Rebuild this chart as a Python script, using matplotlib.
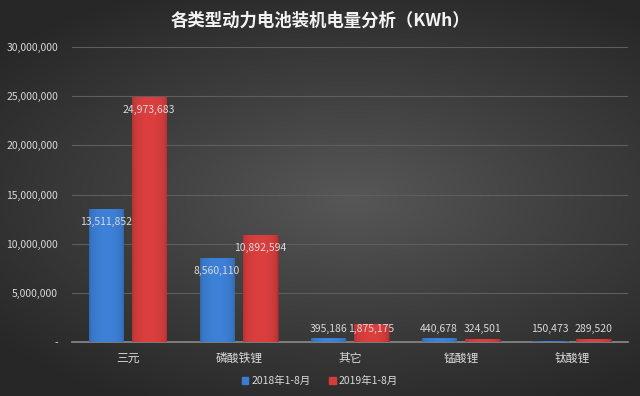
import matplotlib.pyplot as plt
import numpy as np

plt.rcParams['font.family'] = ['Noto Sans CJK SC', 'DejaVu Sans']

# Data
CATEGORIES = ['三元', '磷酸铁锂', '其它', '锰酸锂', '钛酸锂']
SERIES_NAMES = ['2018年1-8月', '2019年1-8月']
VALUES_2018 = [13511852, 8560110, 395186, 440678, 150473]
VALUES_2019 = [24973683, 10892594, 1875175, 324501, 289520]
Y_TICKS = [0, 5000000, 10000000, 15000000, 20000000, 25000000, 30000000]
TITLE = '各类型动力电池装机电量分析（KWh）'

BLUE = '#3b7cd0'
RED = '#d43c3c'
TEXT = '#d9d9d9'

fig = plt.figure(figsize=(6.4, 3.96), dpi=100)

# Background radial gradient
bg = fig.add_axes([0, 0, 1, 1])
yy, xx = np.mgrid[-1:1:200j, -1:1:320j]
r = np.sqrt(((xx - 0.1) * 0.9) ** 2 + (yy * 1.1) ** 2)
bg.imshow(r, cmap=plt.matplotlib.colors.LinearSegmentedColormap.from_list(
    'bg', ['#575757', '#3e3e3e', '#272727']), aspect='auto',
    extent=[0, 1, 0, 1], vmin=0, vmax=1.3)
bg.set_axis_off()

ax = fig.add_axes([0.1125, 0.136, 0.868, 0.745])
ax.set_facecolor('none')

x = np.arange(len(CATEGORIES))
w = 0.31
gap = 0.08


def cylinder_bars(xs, vals, color):
    bars = ax.bar(xs, vals, width=w, color=color, zorder=3)
    base = np.array(plt.matplotlib.colors.to_rgb(color))
    grad = np.linspace(0, 1, 64)
    shade = 0.82 + 0.22 * np.sin(grad * np.pi) ** 0.4
    img = np.clip(base[None, :] * shade[:, None], 0, 1)[None, :, :]
    for b in bars:
        x0, y0 = b.get_x(), b.get_y()
        im = ax.imshow(img, extent=[x0, x0 + b.get_width(), y0, y0 + b.get_height()],
                       aspect='auto', zorder=4)
        im.set_clip_path(b)
        b.set_edgecolor(tuple(base * 0.7))
        b.set_linewidth(0.6)
    return bars


b1 = cylinder_bars(x - w / 2 - gap / 2, VALUES_2018, BLUE)
b2 = cylinder_bars(x + w / 2 + gap / 2, VALUES_2019, RED)

off = 1330000
for xs, vals in [(x - w / 2 - gap / 2, VALUES_2018), (x + w / 2 + gap / 2, VALUES_2019)]:
    for xi, v in zip(xs, vals):
        ax.text(xi, max(v - off, off), f'{v:,}', ha='center', va='center',
                fontsize=7.5, color=TEXT, zorder=6)

ax.set_xlim(-0.5, len(CATEGORIES) - 0.5)
ax.set_ylim(0, 30000000)
ax.set_yticks(Y_TICKS)
ax.set_yticklabels(['-' if t == 0 else f'{t:,}' for t in Y_TICKS])
ax.set_xticks(x)
ax.set_xticklabels(CATEGORIES)
ax.tick_params(axis='y', length=0, pad=10, labelsize=7.5, labelcolor=TEXT)
ax.tick_params(axis='x', length=0, pad=7, labelsize=8.5, labelcolor=TEXT)
ax.grid(axis='y', color='#5e5e5e', linewidth=0.8, zorder=0)
for s in ['top', 'right', 'left']:
    ax.spines[s].set_visible(False)
ax.spines['bottom'].set_color('#8a8a8a')
ax.spines['bottom'].set_linewidth(1.2)

h1 = plt.Rectangle((0, 0), 1, 1, color=BLUE)
h2 = plt.Rectangle((0, 0), 1, 1, color=RED)
leg = fig.legend([h1, h2], SERIES_NAMES, loc='center', bbox_to_anchor=(0.5, 0.037),
                 ncol=2, frameon=False, fontsize=7.5, handlelength=0.6, handleheight=0.6,
                 handletextpad=0.3, columnspacing=1.8)
for t in leg.get_texts():
    t.set_color(TEXT)

fig.text(0.5, 0.948, TITLE, ha='center', va='center', fontsize=12.5,
         fontweight='bold', color='#f2f2f2')

fig.savefig('out.png', dpi=100)
